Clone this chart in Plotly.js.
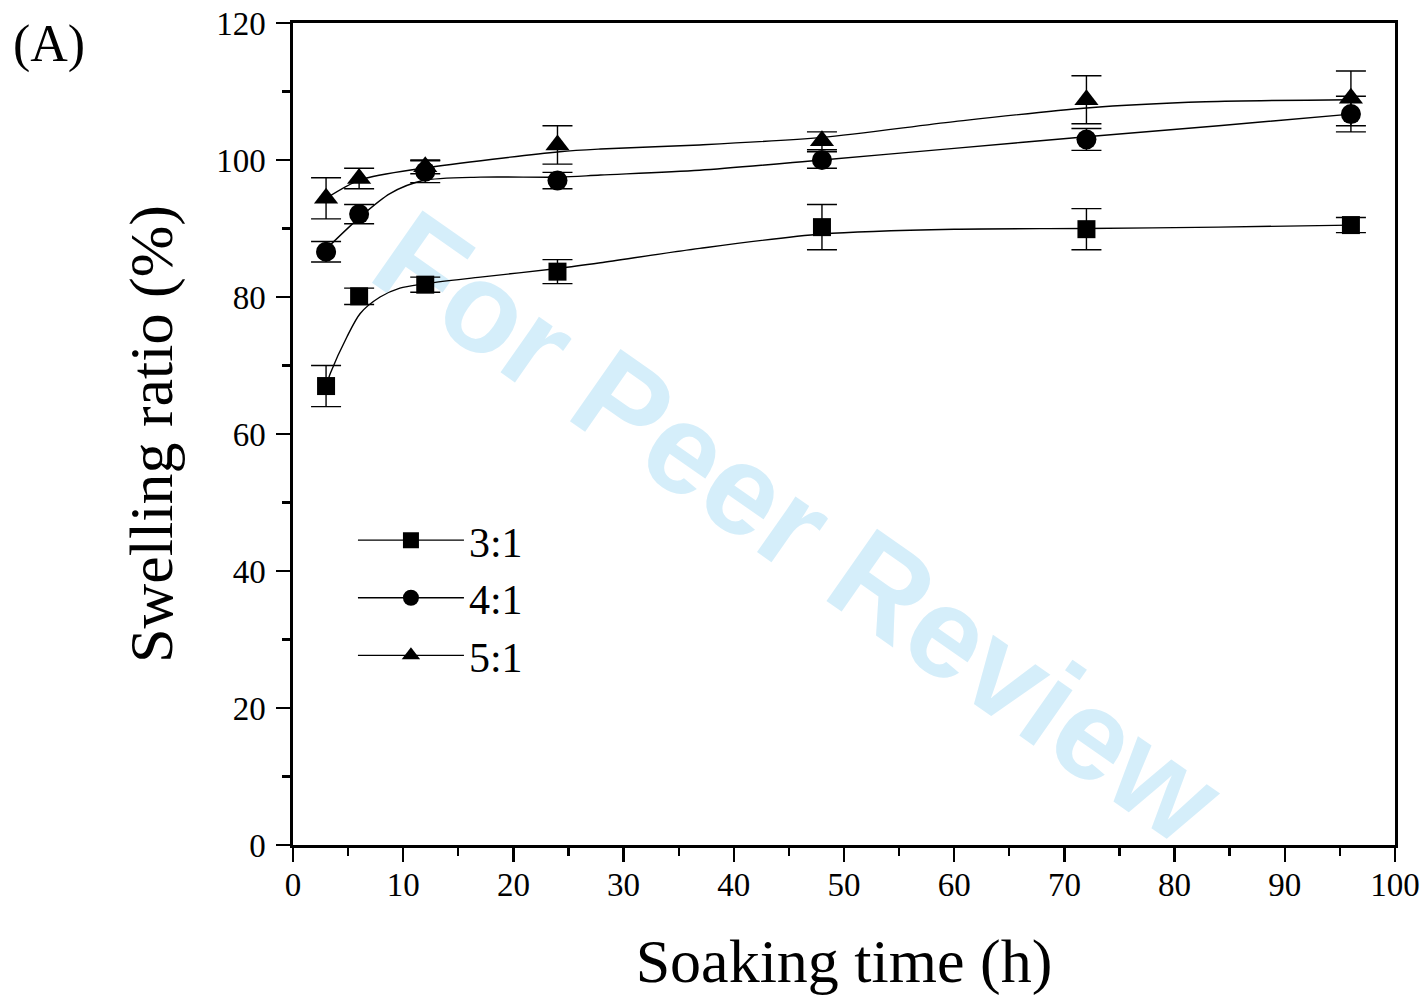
<!DOCTYPE html>
<html>
<head>
<meta charset="utf-8">
<script src="https://cdn.plot.ly/plotly-3.0.1.min.js"></script>
<style>html,body{margin:0;padding:0;background:#fff}#chart{width:1427px;height:1000px}</style>
</head>
<body>
<div id="chart"></div>
<script>
// Measured data (soaking time in h, swelling ratio in %)
const times = [3, 6, 12, 24, 48, 72, 96];
const ratio31 = [67.0, 80.1, 81.8, 83.7, 90.2, 89.9, 90.5];
const err31   = [3.0, 1.2, 1.1, 1.75, 3.3, 3.0, 1.1];
const ratio41 = [86.6, 92.1, 98.3, 97.0, 100.0, 103.0, 106.7];
const err41   = [1.5, 1.4, 1.6, 1.2, 1.2, 1.6, 2.6];
const ratio51 = [94.4, 97.3, 99.0, 102.2, 102.8, 108.8, 109.0];
const err51   = [3.0, 1.5, 1.0, 2.8, 1.3, 3.5, 4.0];

// Fitted curves
const fitX31 = [3, 3.4, 4.9, 6.1, 7.9, 9.7, 11.8, 17, 24.2, 27.9, 36.9, 48, 60, 72, 84, 96];
const fitY31 = [67.0, 68.9, 74.2, 77.6, 80.0, 81.3, 81.9, 82.9, 84.2, 85.0, 87.1, 89.2, 89.9, 90.0, 90.2, 90.5];
const fitX41 = [3, 6.1, 8.8, 11.8, 17, 24.2, 27.9, 36.9, 48, 60, 72, 84, 96];
const fitY41 = [87.0, 91.7, 95.1, 97.0, 97.5, 97.5, 97.8, 98.5, 100.0, 101.7, 103.4, 105.0, 106.7];
const fitX51 = [3, 6.1, 11.8, 24.2, 27.9, 36.9, 48, 60, 72, 82.8, 96];
const fitY51 = [94.4, 97.1, 98.8, 101.2, 101.6, 102.2, 103.3, 105.6, 107.6, 108.5, 108.8];

const seriesNames = ['3:1', '4:1', '5:1'];
const symbols = ['square', 'circle', 'triangle-up'];
const markerSizes = [18, 20, 21];

const serif = 'Liberation Serif, Times New Roman, serif';
const fitLine = {color: '#000', width: 1.4, shape: 'spline', smoothing: 0.8};

function fitTrace(x, y) {
  return {x: x, y: y, mode: 'lines', line: fitLine, showlegend: false, hoverinfo: 'skip'};
}
function dataTrace(y, e, i) {
  return {
    x: times, y: y, mode: 'markers', showlegend: false,
    marker: {symbol: symbols[i], size: markerSizes[i], color: '#000'},
    error_y: {type: 'data', array: e, visible: true, color: '#000', thickness: 1.4, width: 15}
  };
}
function legendTrace(i) {
  return {
    x: [null], y: [null], mode: 'lines+markers', name: seriesNames[i],
    line: {color: '#000', width: 1.4},
    marker: {symbol: symbols[i], size: 16, color: '#000'}
  };
}

const traces = [
  fitTrace(fitX31, fitY31), fitTrace(fitX41, fitY41), fitTrace(fitX51, fitY51),
  dataTrace(ratio31, err31, 0), dataTrace(ratio41, err41, 1), dataTrace(ratio51, err51, 2),
  legendTrace(0), legendTrace(1), legendTrace(2)
];

const layout = {
  width: 1427, height: 1000,
  margin: {l: 293, r: 32, t: 23, b: 155},
  paper_bgcolor: '#fff', plot_bgcolor: '#fff',
  font: {family: serif, color: '#000'},
  xaxis: {
    range: [0, 100], tick0: 0, dtick: 10,
    showgrid: false, zeroline: false,
    showline: true, linecolor: '#000', linewidth: 2.7, mirror: true,
    ticks: 'outside', ticklen: 14, tickwidth: 2.4, tickcolor: '#000',
    minor: {dtick: 5, ticks: 'outside', ticklen: 8, tickwidth: 2.4, tickcolor: '#000'},
    tickfont: {family: serif, size: 33, color: '#000'},
    ticklabelstandoff: -5,
    title: {text: 'Soaking time (h)', font: {family: serif, size: 62, color: '#000'}, standoff: 37}
  },
  yaxis: {
    range: [0, 120], tick0: 0, dtick: 20,
    showgrid: false, zeroline: false,
    showline: true, linecolor: '#000', linewidth: 2.7, mirror: true,
    ticks: 'outside', ticklen: 14, tickwidth: 2.4, tickcolor: '#000',
    minor: {dtick: 10, ticks: 'outside', ticklen: 8, tickwidth: 2.4, tickcolor: '#000'},
    tickfont: {family: serif, size: 33, color: '#000'},
    ticklabelstandoff: 4,
    title: {text: 'Swelling ratio (%)', font: {family: serif, size: 62, color: '#000'}, standoff: 24}
  },
  showlegend: true,
  legend: {
    x: 0.0544, y: 0.412, xanchor: 'left', yanchor: 'top',
    bgcolor: 'rgba(0,0,0,0)', borderwidth: 0,
    font: {family: serif, size: 42, color: '#000'},
    tracegroupgap: 0, itemwidth: 106
  },
  shapes: [
    {type: 'rect', xref: 'paper', yref: 'paper', x0: 0.1, x1: 0.83, y0: 0.024, y1: 0.774,
     layer: 'below', line: {width: 0}, fillcolor: 'rgba(0,0,0,0)',
     label: {text: 'For Peer Review', textangle: 35, textposition: 'middle center',
       font: {family: 'Liberation Sans, Arial, sans-serif', size: 128, color: 'rgb(213,238,250)', weight: 'bold'}}}
  ],
  annotations: [
    {text: '(A)', xref: 'paper', yref: 'paper', x: -0.256, y: 1.012, xanchor: 'left', yanchor: 'top',
     showarrow: false, font: {family: serif, size: 52, color: '#000'}}
  ]
};

Plotly.newPlot('chart', traces, layout, {displayModeBar: false, staticPlot: true});
</script>
</body>
</html>
